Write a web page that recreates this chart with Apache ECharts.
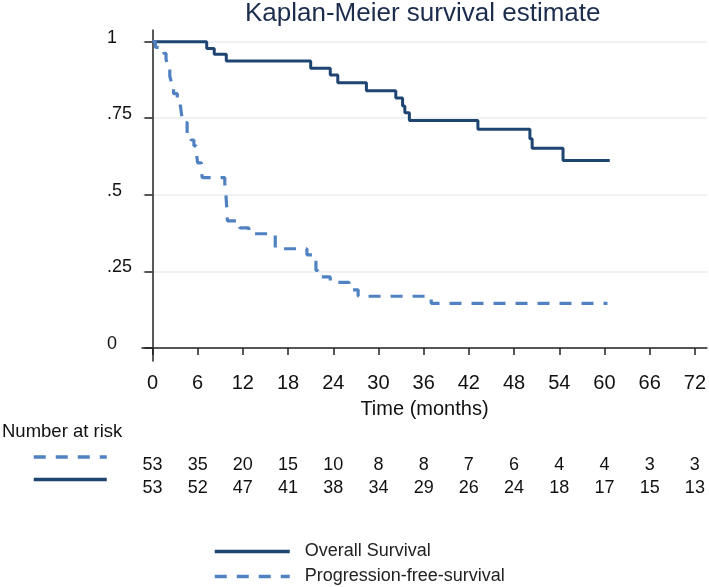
<!DOCTYPE html>
<html><head><meta charset="utf-8">
<script src="https://cdn.jsdelivr.net/npm/echarts@6/dist/echarts.min.js"></script>
<style>html,body{margin:0;padding:0;background:#fff}#c{width:709px;height:587px}</style>
</head><body><div id="c"></div>
<script>
// ---- data ----
const xTicks = [0, 6, 12, 18, 24, 30, 36, 42, 48, 54, 60, 66, 72];
const yTicks = [0, 0.25, 0.5, 0.75, 1];
const yTickLabels = ['0', '.25', '.5', '.75', '1'];

const osTimes = [0, 7.2, 8.2, 9.8, 21.0, 23.6, 24.6, 28.4, 32.3, 33.2, 33.5, 34.1, 43.2, 50.1, 50.4, 54.5, 60.7];
const osSurv  = [1, 0.978, 0.959, 0.937, 0.913, 0.891, 0.866, 0.840, 0.816, 0.790, 0.768, 0.743, 0.714, 0.683, 0.652, 0.612, 0.612];

const pfsTimes = [0, 0.4, 1.5, 1.8, 2.0, 2.3, 2.5, 2.8, 3.3, 3.7, 3.9, 4.3, 4.6, 5.1, 5.5, 5.8, 6.0, 6.5, 6.6, 9.6, 9.75, 9.85, 9.95, 11.6, 12.8, 16.3, 20.5, 21.7, 22.0, 23.6, 26.1, 27.3, 37.0, 60.4];
const pfsSurv  = [1, 0.981, 0.962, 0.943, 0.925, 0.887, 0.868, 0.830, 0.811, 0.792, 0.755, 0.736, 0.698, 0.679, 0.660, 0.641, 0.604, 0.585, 0.556, 0.537, 0.500, 0.462, 0.415, 0.392, 0.373, 0.324, 0.304, 0.253, 0.232, 0.214, 0.190, 0.169, 0.146, 0.146];

const riskTimes = [0, 6, 12, 18, 24, 30, 36, 42, 48, 54, 60, 66, 72];
const riskPFS = [53, 35, 20, 15, 10, 8, 8, 7, 6, 4, 4, 3, 3];
const riskOS  = [53, 52, 47, 41, 38, 34, 29, 26, 24, 18, 17, 15, 13];

const seriesNames = ['Overall Survival', 'Progression-free-survival'];
const titleText = 'Kaplan-Meier survival estimate';
const xName = 'Time (months)';
const riskTitle = 'Number at risk';

// ---- chart ----
const FONT = '"Liberation Sans", Arial, sans-serif';
const OS_COLOR = '#1e4572';
const PFS_COLOR = '#5082c2';
const chart = echarts.init(document.getElementById('c'), null, {renderer: 'canvas'});

const pairs = (t, s) => t.map((v, i) => [v, s[i]]);

chart.setOption({
  animation: false,
  backgroundColor: '#fff',
  textStyle: {fontFamily: FONT},
  title: {
    text: titleText, left: 245, top: 1, padding: 0,
    textStyle: {fontSize: 26, fontWeight: 'normal', color: '#1b2c4d', fontFamily: FONT}
  },
  grid: {left: 142, right: 0, top: 30, bottom: 226, containLabel: false},
  xAxis: {
    type: 'value', min: -1.39, max: 73.6,
    axisLine: {show: true, lineStyle: {color: '#222', width: 1.5}},
    axisTick: {show: true, length: 7, lineStyle: {color: '#222', width: 1.5}, customValues: xTicks},
    axisLabel: {show: true, customValues: xTicks, fontSize: 20, color: '#111', margin: 12, fontFamily: FONT},
    splitLine: {show: false},
    name: xName, nameLocation: 'middle', nameGap: 38,
    nameTextStyle: {fontSize: 20, color: '#111', fontFamily: FONT}
  },
  yAxis: {
    type: 'value', min: -0.0424, max: 1.038,
    axisLine: {show: true, lineStyle: {color: '#222', width: 1.5}},
    axisTick: {show: true, length: 8, lineStyle: {color: '#222', width: 1.5}, customValues: yTicks},
    axisLabel: {
      show: true, customValues: yTicks, fontSize: 18, color: '#111', align: 'left', margin: 35,
      verticalAlign: 'bottom', lineHeight: 8, fontFamily: FONT,
      formatter: v => { const i = yTicks.findIndex(t => Math.abs(t - v) < 1e-6); return i >= 0 ? yTickLabels[i] : ''; }
    },
    splitLine: {show: true, lineStyle: {color: '#e8eef1', width: 1.5}}
  },
  legend: [{
    data: [seriesNames[0], seriesNames[1]],
    orient: 'vertical', left: 213, top: 542, padding: 0, height: 45,
    itemWidth: 75, itemHeight: 14, itemGap: 6,
    itemStyle: {opacity: 0},
    lineStyle: {width: 3.5},
    textStyle: {fontSize: 18, lineHeight: 19, color: '#222', padding: [0, 0, 0, 10], fontFamily: FONT},
    selectedMode: false
  }, {
    data: [seriesNames[1], seriesNames[0]],
    orient: 'vertical', left: 32, top: 450, padding: 0,
    itemWidth: 73, itemHeight: 14, itemGap: 10,
    itemStyle: {opacity: 0},
    lineStyle: {width: 3.5},
    formatter: () => '',
    textStyle: {fontSize: 1},
    selectedMode: false
  }],
  series: [{
    name: seriesNames[0], type: 'line', step: 'end', symbol: 'none', z: 10,
    data: pairs(osTimes, osSurv),
    lineStyle: {color: OS_COLOR, width: 3},
    itemStyle: {color: OS_COLOR}
  }, {
    name: seriesNames[1], type: 'line', step: 'end', symbol: 'none', z: 10,
    data: pairs(pfsTimes, pfsSurv),
    lineStyle: {color: PFS_COLOR, width: 3.2, type: [12, 10]},
    itemStyle: {color: PFS_COLOR}
  }]
});

// number at risk table, positioned through the x axis scale
const rowY = [465, 488];
const els = [{
  type: 'text', left: 2, top: 422,
  style: {text: riskTitle, fontSize: 18.5, fill: '#111', fontFamily: FONT}
}];
[riskPFS, riskOS].forEach((row, r) => {
  row.forEach((n, i) => {
    const x = chart.convertToPixel({xAxisIndex: 0}, riskTimes[i]);
    els.push({
      type: 'text', x: x, y: rowY[r],
      style: {text: String(n), fontSize: 18, fill: '#111', align: 'center', verticalAlign: 'middle', fontFamily: FONT}
    });
  });
});
chart.setOption({graphic: {elements: els}});
</script>
</body></html>
